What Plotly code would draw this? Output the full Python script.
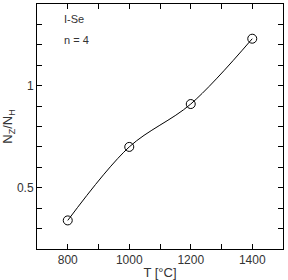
import plotly.graph_objects as go

temps = [800, 1000, 1200, 1400]
ratio = [0.34, 0.70, 0.91, 1.23]
x_ticks = [800, 1000, 1200, 1400]
y_ticks = [0.5, 1]
y_tick_text = ["0.5", "1"]

FONT = "Liberation Sans, Arial"
fig = go.Figure()
fig.add_trace(go.Scatter(
    x=temps, y=ratio, mode="lines+markers",
    line=dict(color="black", width=1, shape="spline", smoothing=0.95),
    marker=dict(symbol="circle-open", size=9, color="black", line=dict(width=1)),
))

axis_common = dict(
    showline=True, linecolor="black", linewidth=1, mirror="ticks",
    ticks="inside", ticklen=5, tickcolor="black", showgrid=False, zeroline=False,
    tickfont=dict(family=FONT, size=12, color="#333"), automargin=False,
)
fig.update_xaxes(range=[700, 1500], tickvals=x_ticks,
                 minor=dict(dtick=100, ticks="inside", ticklen=5, tickcolor="black", tick0=700),
                 title=dict(text="T [°C]", font=dict(family=FONT, size=13, color="#333"), standoff=4),
                 **axis_common)
fig.update_yaxes(range=[0.2, 1.4], tickvals=y_ticks, ticktext=y_tick_text,
                 minor=dict(dtick=0.1, ticks="inside", ticklen=5, tickcolor="black", tick0=0.2),
                 title=dict(text="N<sub>Z</sub>/N<sub>H</sub>", font=dict(family=FONT, size=13, color="#333"), standoff=8),
                 **axis_common)

fig.add_annotation(x=0.1, y=0.94, xref="paper", yref="paper", text="I-Se", showarrow=False,
                   xanchor="left", yanchor="middle", font=dict(family=FONT, size=11, color="#333"))
fig.add_annotation(x=0.1, y=0.855, xref="paper", yref="paper", text="n = 4", showarrow=False,
                   xanchor="left", yanchor="middle", font=dict(family=FONT, size=11, color="#333"))

fig.update_layout(width=288, height=280, margin=dict(l=37, r=5, t=4, b=31),
                  paper_bgcolor="white", plot_bgcolor="white", showlegend=False)
fig.write_html("out.html")
